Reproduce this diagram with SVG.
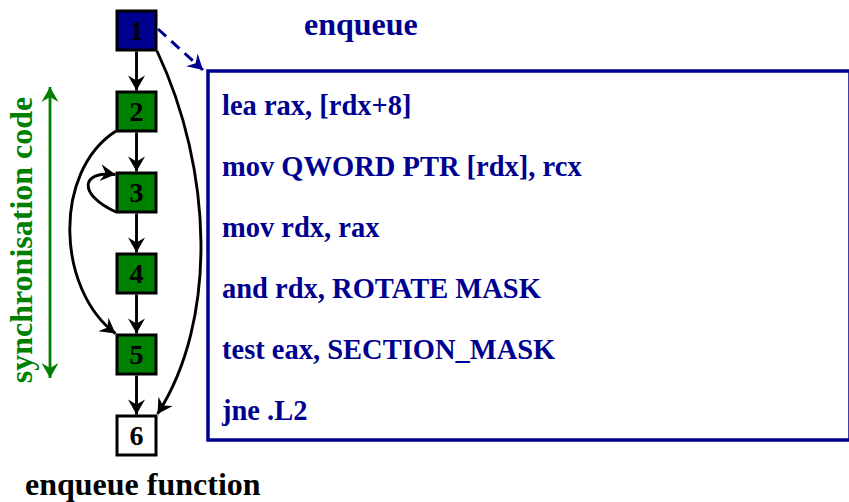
<svg xmlns="http://www.w3.org/2000/svg" width="849" height="502" viewBox="0 0 849 502">
  <style>
    .node rect { stroke: #000; stroke-width: 3; }
    .node text { font-family: "Liberation Serif", "Times New Roman", serif; font-weight: bold; font-size: 28px; fill: #000; text-anchor: middle; }
    .sync rect { fill: #008000; }
    .entry rect { fill: #000090; }
    .exit rect { fill: #fff; }
    .edge { fill: none; stroke: #000; stroke-width: 2.9; }
    .code { font-family: "Liberation Serif", "Times New Roman", serif; font-weight: bold; font-size: 28.5px; fill: #000090; }
    .label { font-family: "Liberation Serif", "Times New Roman", serif; font-weight: bold; font-size: 32px; }
  </style>
  <defs>
    <marker id="arrow" markerUnits="userSpaceOnUse" markerWidth="20" markerHeight="20" viewBox="-16 -10 18 20" refX="0" refY="0" orient="auto">
      <path d="M0,0 L-15,-8.5 L-10,0 L-15,8.5 Z" fill="#000"/>
    </marker>
    <marker id="arrow-navy" markerUnits="userSpaceOnUse" markerWidth="20" markerHeight="20" viewBox="-16 -10 18 20" refX="0" refY="0" orient="auto">
      <path d="M0,0 L-15,-8.5 L-10,0 L-15,8.5 Z" fill="#000090"/>
    </marker>
    <marker id="arrow-green" markerUnits="userSpaceOnUse" markerWidth="20" markerHeight="20" viewBox="-16 -10 18 20" refX="0" refY="0" orient="auto-start-reverse">
      <path d="M0,0 L-15,-8.5 L-10,0 L-15,8.5 Z" fill="#008000"/>
    </marker>
  </defs>

  <!-- assembly listing panel -->
  <g id="code-panel">
    <rect x="208" y="71" width="642" height="369" fill="#fff" stroke="#000090" stroke-width="3.5"/>
    <text class="code" x="222" y="115">lea rax, [rdx+8]</text>
    <text class="code" x="222" y="176">mov QWORD PTR [rdx], rcx</text>
    <text class="code" x="222" y="237">mov rdx, rax</text>
    <text class="code" x="222" y="298">and rdx, ROTATE MASK</text>
    <text class="code" x="222" y="359">test eax, SECTION_MASK</text>
    <text class="code" x="222" y="420">jne .L2</text>
  </g>

  <text id="title" class="label" x="304" y="35" fill="#000090">enqueue</text>
  <text id="caption" class="label" x="25" y="495" fill="#000">enqueue function</text>

  <!-- synchronisation range -->
  <g id="sync-range">
    <line x1="50" y1="87" x2="50" y2="378" stroke="#008000" stroke-width="2.8" marker-start="url(#arrow-green)" marker-end="url(#arrow-green)"/>
    <text class="label" fill="#008000" text-anchor="middle" transform="translate(32,240) rotate(-90)">synchronisation code</text>
  </g>

  <!-- control-flow edges -->
  <g id="connectors">
    <path class="edge" d="M136.5,51.5 L136.5,90.5" marker-end="url(#arrow)"/>
    <path class="edge" d="M136.5,132.5 L136.5,171.5" marker-end="url(#arrow)"/>
    <path class="edge" d="M136.5,213.5 L136.5,252.5" marker-end="url(#arrow)"/>
    <path class="edge" d="M136.5,294.5 L136.5,333.5" marker-end="url(#arrow)"/>
    <path class="edge" d="M136.5,375.5 L136.5,414.5" marker-end="url(#arrow)"/>
    <path class="edge" d="M116,131 C52,172 57,290 115.5,333.5" marker-end="url(#arrow)"/>
    <path class="edge" d="M116,212 C78,195 80,170 115.5,174.5" marker-end="url(#arrow)"/>
    <path class="edge" d="M157,51 C213,170 218,320 157.5,414" marker-end="url(#arrow)"/>
    <path d="M158,29 L203,70" fill="none" stroke="#000090" stroke-width="3" stroke-dasharray="11,7" marker-end="url(#arrow-navy)"/>
  </g>

  <!-- basic blocks -->
  <g id="node1" class="node entry">
    <rect x="117" y="11" width="39" height="39"/>
    <text x="136.5" y="40">1</text>
  </g>
  <g id="node2" class="node sync">
    <rect x="117" y="92" width="39" height="39"/>
    <text x="136.5" y="121">2</text>
  </g>
  <g id="node3" class="node sync">
    <rect x="117" y="173" width="39" height="39"/>
    <text x="136.5" y="202">3</text>
  </g>
  <g id="node4" class="node sync">
    <rect x="117" y="254" width="39" height="39"/>
    <text x="136.5" y="283">4</text>
  </g>
  <g id="node5" class="node sync">
    <rect x="117" y="335" width="39" height="39"/>
    <text x="136.5" y="364">5</text>
  </g>
  <g id="node6" class="node exit">
    <rect x="117" y="416" width="39" height="39"/>
    <text x="136.5" y="445">6</text>
  </g>
</svg>
